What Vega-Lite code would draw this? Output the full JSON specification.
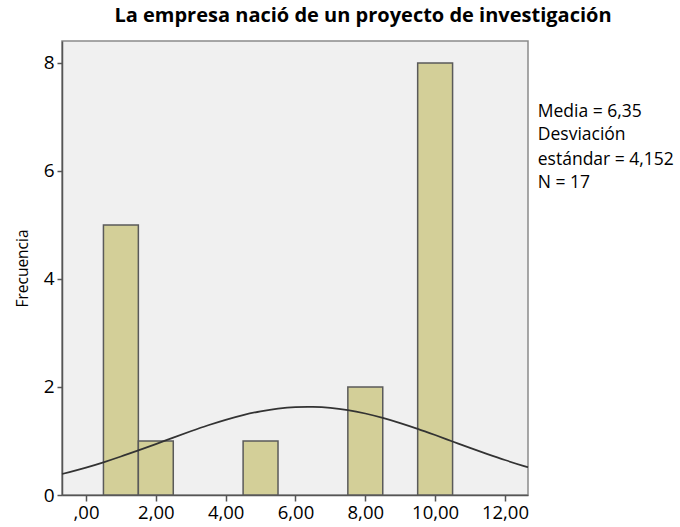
{
  "$schema": "https://vega.github.io/schema/vega-lite/v6.json",
  "autosize": {"type": "none"},
  "padding": {"left": 62, "top": 41, "right": 152, "bottom": 32},
  "width": 466,
  "height": 454,
  "background": "white",
  "config": {
    "font": "Open Sans",
    "view": {"fill": "#f0f0f0", "stroke": "#8a8a8a", "strokeWidth": 1.5}
  },
  "title": {
    "text": "La empresa nació de un proyecto de investigación",
    "font": "Open Sans",
    "fontSize": 20,
    "fontWeight": "bold",
    "color": "#000000",
    "anchor": "middle",
    "dx": 68,
    "offset": 15
  },
  "layer": [
    {
      "data": {
        "values": [
          {"bin_start": 0.5, "bin_end": 1.5, "count": 5},
          {"bin_start": 1.5, "bin_end": 2.5, "count": 1},
          {"bin_start": 4.5, "bin_end": 5.5, "count": 1},
          {"bin_start": 7.5, "bin_end": 8.5, "count": 2},
          {"bin_start": 9.5, "bin_end": 10.5, "count": 8}
        ]
      },
      "mark": {"type": "rect", "fill": "#d3cf98", "stroke": "#5a5a5a", "strokeWidth": 1.5},
      "encoding": {
        "x": {
          "field": "bin_start", "type": "quantitative",
          "scale": {"domain": [-0.687, 12.66], "nice": false, "zero": false},
          "axis": {
            "title": null,
            "values": [0, 2, 4, 6, 8, 10, 12],
            "labelExpr": "datum.value == 0 ? ',00' : replace(format(datum.value, '.2f'), '.', ',')",
            "labelFontSize": 18.5,
            "labelColor": "#000000",
            "labelFont": "Open Sans",
            "tickColor": "#555555",
            "tickSize": 6,
            "tickWidth": 1.5,
            "domainColor": "#555555",
            "domainWidth": 1.5,
            "grid": false,
            "labelPadding": 2
          }
        },
        "x2": {"field": "bin_end"},
        "y": {
          "field": "count", "type": "quantitative",
          "scale": {"domain": [0, 8.407], "nice": false},
          "axis": {
            "title": "Frecuencia",
            "titleFontSize": 15.5,
            "titleFontWeight": "normal",
            "titleColor": "#000000",
            "titleFont": "Open Sans",
            "titlePadding": 13,
            "values": [0, 2, 4, 6, 8],
            "format": "d",
            "labelFontSize": 19,
            "labelColor": "#000000",
            "labelFont": "Open Sans",
            "tickColor": "#555555",
            "tickSize": 5,
            "tickWidth": 1.5,
            "domainColor": "#555555",
            "domainWidth": 1.5,
            "grid": false,
            "labelPadding": 3
          }
        },
        "y2": {"datum": 0}
      }
    },
    {
      "data": {
        "values": [
          {"x": -0.687, "y": 0.389},
          {"x": 0.0, "y": 0.507},
          {"x": 0.5, "y": 0.605},
          {"x": 1.0, "y": 0.712},
          {"x": 1.5, "y": 0.826},
          {"x": 2.0, "y": 0.943},
          {"x": 2.5, "y": 1.063},
          {"x": 3.0, "y": 1.180},
          {"x": 3.5, "y": 1.291},
          {"x": 4.0, "y": 1.392},
          {"x": 4.5, "y": 1.479},
          {"x": 5.0, "y": 1.549},
          {"x": 5.5, "y": 1.600},
          {"x": 6.0, "y": 1.628},
          {"x": 6.35, "y": 1.633},
          {"x": 6.5, "y": 1.632},
          {"x": 7.0, "y": 1.614},
          {"x": 7.5, "y": 1.572},
          {"x": 8.0, "y": 1.509},
          {"x": 8.5, "y": 1.428},
          {"x": 9.0, "y": 1.332},
          {"x": 9.5, "y": 1.225},
          {"x": 10.0, "y": 1.110},
          {"x": 10.5, "y": 0.991},
          {"x": 11.0, "y": 0.872},
          {"x": 11.5, "y": 0.757},
          {"x": 12.0, "y": 0.647},
          {"x": 12.5, "y": 0.545},
          {"x": 12.66, "y": 0.514}
        ]
      },
      "mark": {"type": "line", "color": "#333333", "strokeWidth": 1.7, "interpolate": "monotone"},
      "encoding": {
        "x": {"field": "x", "type": "quantitative"},
        "y": {"field": "y", "type": "quantitative"}
      }
    },
    {
      "data": {
        "values": [
          {"x": 12.94, "y": 7.09, "label": "Media = 6,35"},
          {"x": 12.94, "y": 6.66, "label": "Desviación"},
          {"x": 12.94, "y": 6.2, "label": "estándar = 4,152"},
          {"x": 12.94, "y": 5.77, "label": "N = 17"}
        ]
      },
      "mark": {"type": "text", "align": "left", "baseline": "middle", "fontSize": 17.5, "font": "Open Sans", "color": "#000000", "clip": false},
      "encoding": {
        "x": {"field": "x", "type": "quantitative"},
        "y": {"field": "y", "type": "quantitative"},
        "text": {"field": "label"}
      }
    }
  ]
}
